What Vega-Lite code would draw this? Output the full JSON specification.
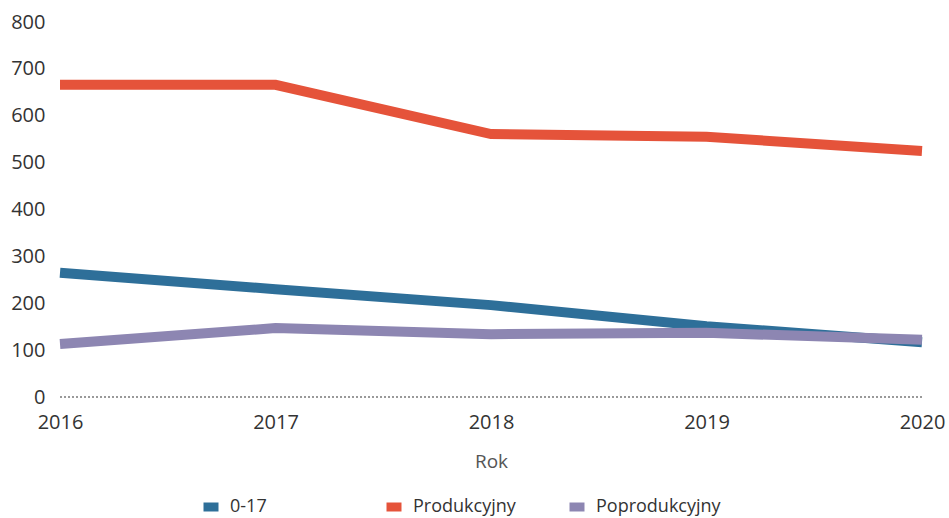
{
  "$schema": "https://vega.github.io/schema/vega-lite/v6.json",
  "width": 862,
  "height": 375,
  "autosize": {"type": "none"},
  "padding": {"left": 60, "top": 22, "right": 27, "bottom": 121},
  "background": "white",
  "config": {
    "font": "Open Sans",
    "view": {"stroke": null}
  },
  "data": {
    "values": [
      {"rok": 2016, "grupa": "0-17", "wartosc": 265},
      {"rok": 2017, "grupa": "0-17", "wartosc": 230},
      {"rok": 2018, "grupa": "0-17", "wartosc": 196},
      {"rok": 2019, "grupa": "0-17", "wartosc": 151},
      {"rok": 2020, "grupa": "0-17", "wartosc": 117},
      {"rok": 2016, "grupa": "Produkcyjny", "wartosc": 666},
      {"rok": 2017, "grupa": "Produkcyjny", "wartosc": 666},
      {"rok": 2018, "grupa": "Produkcyjny", "wartosc": 561},
      {"rok": 2019, "grupa": "Produkcyjny", "wartosc": 555},
      {"rok": 2020, "grupa": "Produkcyjny", "wartosc": 525},
      {"rok": 2016, "grupa": "Poprodukcyjny", "wartosc": 113},
      {"rok": 2017, "grupa": "Poprodukcyjny", "wartosc": 147},
      {"rok": 2018, "grupa": "Poprodukcyjny", "wartosc": 134},
      {"rok": 2019, "grupa": "Poprodukcyjny", "wartosc": 137},
      {"rok": 2020, "grupa": "Poprodukcyjny", "wartosc": 122}
    ]
  },
  "layer": [
    {
      "mark": {"type": "rule", "stroke": "#999999", "strokeWidth": 1, "strokeDash": [2, 2]},
      "encoding": {"y": {"datum": 0, "type": "quantitative"}}
    },
    {
      "mark": {"type": "line", "strokeWidth": 10, "strokeCap": "butt", "strokeJoin": "miter"},
      "encoding": {
        "x": {
          "field": "rok",
          "type": "ordinal",
          "scale": {"type": "point", "padding": 0},
          "axis": {
            "title": "Rok",
            "labelAngle": 0,
            "domain": false,
            "ticks": false,
            "labelFontSize": 20,
            "labelColor": "#333333",
            "labelPadding": 15,
            "titleFontSize": 19,
            "titleFontWeight": "normal",
            "titleColor": "#555555",
            "titlePadding": 20
          }
        },
        "y": {
          "field": "wartosc",
          "type": "quantitative",
          "scale": {"domain": [0, 800], "nice": false},
          "axis": {
            "title": null,
            "values": [0, 100, 200, 300, 400, 500, 600, 700, 800],
            "grid": false,
            "domain": false,
            "ticks": false,
            "labelFontSize": 20,
            "labelColor": "#333333",
            "labelPadding": 15
          }
        },
        "color": {
          "field": "grupa",
          "type": "nominal",
          "sort": ["0-17", "Produkcyjny", "Poprodukcyjny"],
          "scale": {
            "domain": ["0-17", "Produkcyjny", "Poprodukcyjny"],
            "range": ["#2e6f99", "#e5533a", "#8d86b2"]
          },
          "legend": {
            "title": null,
            "orient": "none",
            "legendX": 139,
            "legendY": 473,
            "padding": 0,
            "direction": "horizontal",
            "columns": 3,
            "gridAlign": "all",
            "columnPadding": 13,
            "symbolType": "M-1,0H1",
            "symbolSize": 225,
            "symbolStrokeWidth": 9,
            "labelFontSize": 18,
            "labelColor": "#333333",
            "labelOffset": 7
          }
        },
        "order": {"field": "grupa"}
      }
    }
  ]
}
